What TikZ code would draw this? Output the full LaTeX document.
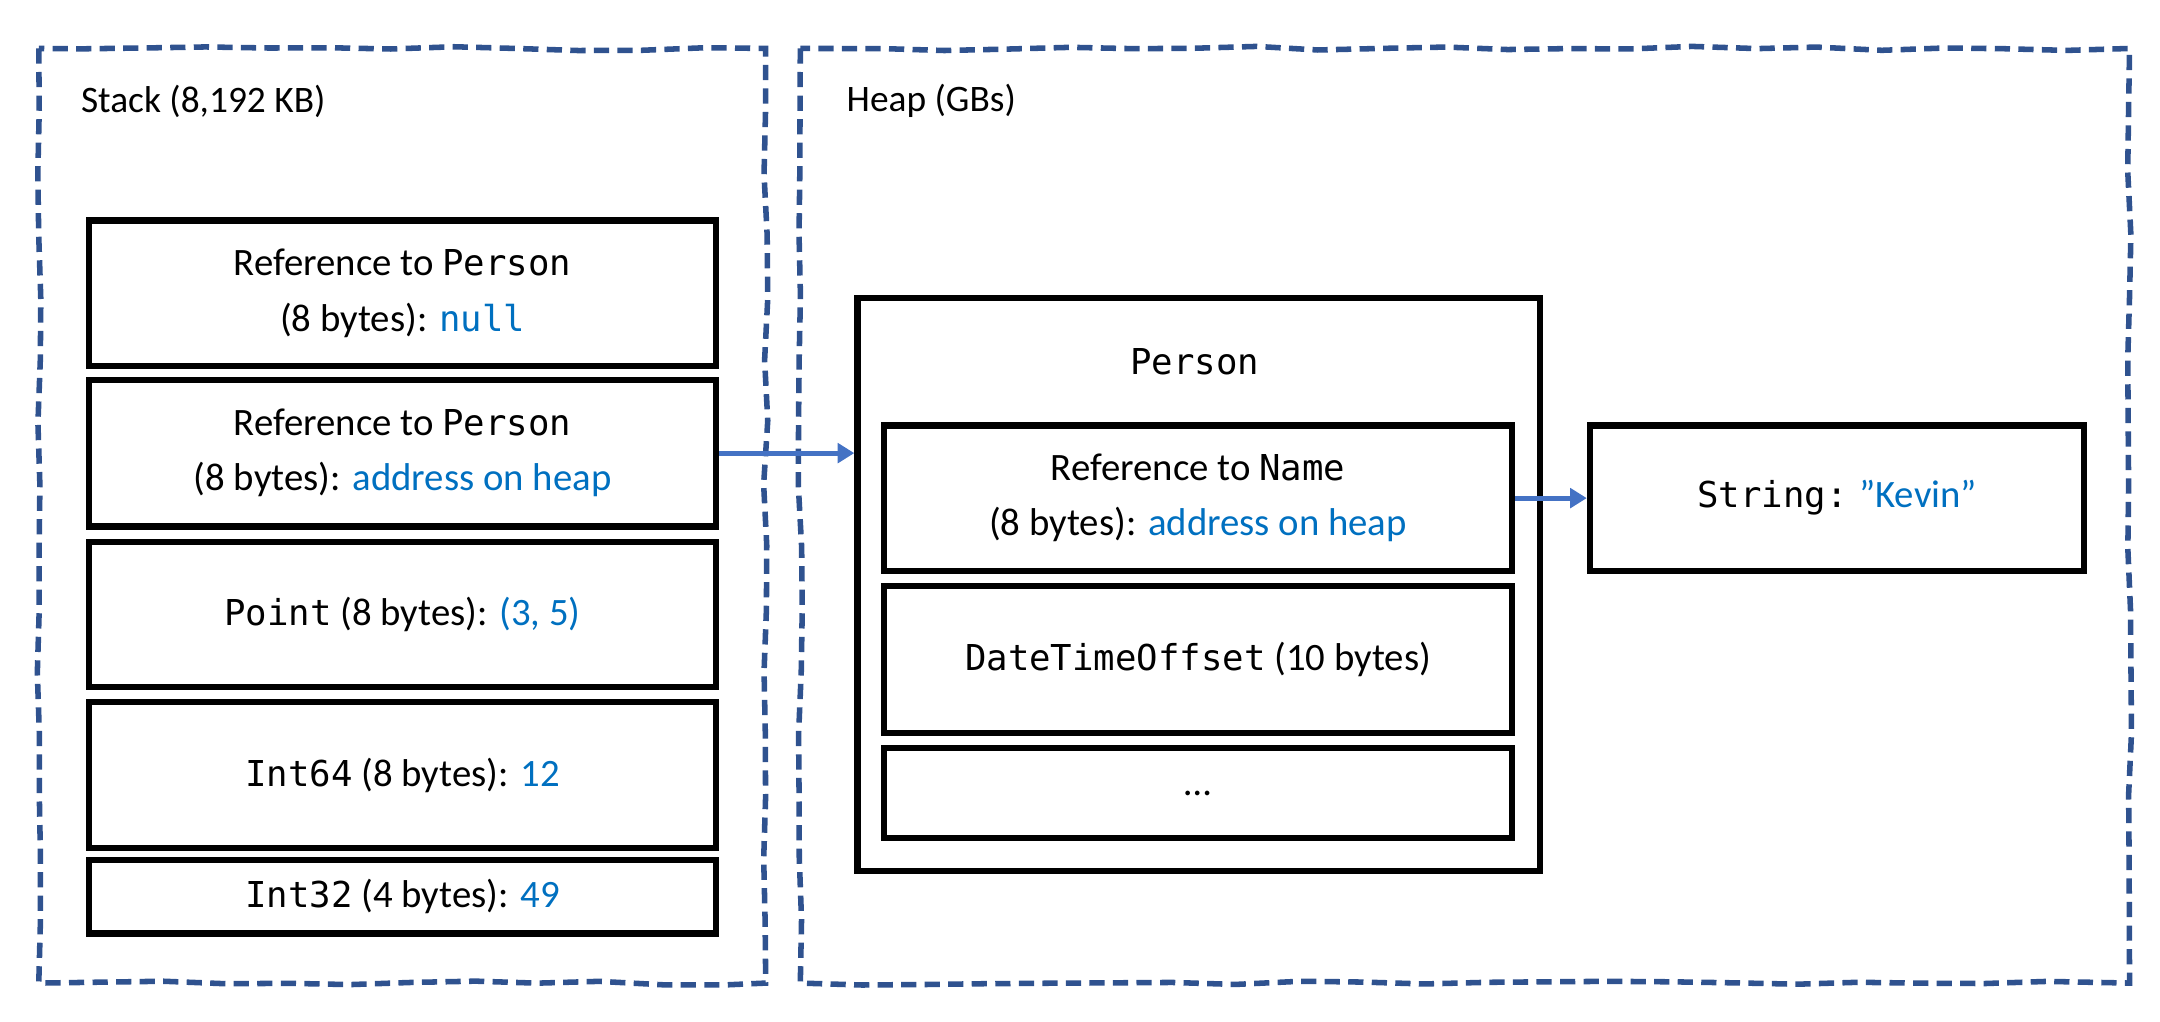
\documentclass[tikz,border=0pt]{standalone}
\usepackage{fontspec}
\setmainfont{Carlito}
\newfontfamily\codefont{DejaVu Sans Mono}[Scale=0.92]
\usetikzlibrary{decorations.pathmorphing,arrows.meta}
\definecolor{edgeblue}{RGB}{47,82,143}
\definecolor{arrowblue}{RGB}{68,114,196}
\definecolor{valblue}{RGB}{0,112,192}
\newcommand{\code}[1]{{\codefont #1}}
\newcommand{\val}[1]{\textcolor{valblue}{#1}}
\begin{document}
\pgfmathsetseed{7}
\begin{tikzpicture}
		[x=1pt,y=-1pt,
		region/.style={draw=edgeblue,line width=4pt,dash pattern=on 11pt off 6pt,
decorate,decoration={random steps,segment length=45pt,amplitude=1.5pt}},
		cell/.style={draw,line width=4.5pt,align=center,font=\fontsize{28}{40}\selectfont},
		title/.style={anchor=west,font=\fontsize{27}{32}\selectfont},
		link/.style={->,arrowblue,line width=3.5pt,>={Triangle[length=12pt,width=14pt]}}]
		\useasboundingbox (0,0) rectangle (1560,738);
		% memory regions
		\draw [region] (28,35) rectangle (553,710);
		\draw [region] (578,35) rectangle (1538,710);
		\node at (55,73) (stack) [title] {Stack (8,192 KB)};
		\node at (608,73) (heap) [title] {Heap (GBs)};
		% stack cells
		\node at (62,157) (ref1) [cell,anchor=north west,minimum width=453pt,minimum height=105pt]
			{Reference to \code{Person}\\(8 bytes): \val{\code{null}}};
		\node at (62,272) (ref2) [cell,anchor=north west,minimum width=453pt,minimum height=106pt]
			{Reference to \code{Person}\\(8 bytes): \val{address on heap}};
		\node at (62,389) (point) [cell,anchor=north west,minimum width=453pt,minimum height=105pt]
			{\code{Point} (8 bytes): \val{(3, 5)}};
		\node at (62,505) (int64) [cell,anchor=north west,minimum width=453pt,minimum height=105pt]
			{\code{Int64} (8 bytes): \val{12}};
		\node at (62,619) (int32) [cell,anchor=north west,minimum width=453pt,minimum height=53pt]
			{\code{Int32} (4 bytes): \val{49}};
		% heap objects
		\node at (617,213) (person) [cell,anchor=north west,minimum width=493pt,minimum height=414pt] {};
		\node at (863,261) (pname) [font=\fontsize{28}{32}\selectfont] {\code{Person}};
		\node at (636,305) (name) [cell,anchor=north west,minimum width=454pt,minimum height=105pt]
			{Reference to \code{Name}\\(8 bytes): \val{address on heap}};
		\node at (636,421) (date) [cell,anchor=north west,minimum width=454pt,minimum height=106pt]
			{\code{DateTimeOffset} (10 bytes)};
		\node at (636,538) (more) [cell,anchor=north west,minimum width=454pt,minimum height=65pt] {\dots};
		\node at (1146,305) (string) [cell,anchor=north west,minimum width=357pt,minimum height=105pt]
			{\code{String:} \val{\symbol{34}Kevin\symbol{34}}};
		% references
		\draw [link] (ref2.east) -- (person.west |- ref2.east);
		\draw [link] (name.east) -- (string.west);
	\end{tikzpicture}
\end{document}
